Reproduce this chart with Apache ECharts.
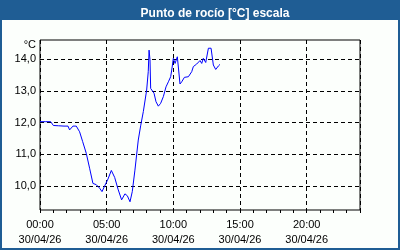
<!DOCTYPE html>
<html>
<head>
<meta charset="utf-8">
<script src="https://cdn.jsdelivr.net/npm/echarts@6/dist/echarts.min.js"></script>
<style>html,body{margin:0;padding:0;background:#fcfffc}#c{width:400px;height:250px}</style>
</head>
<body>
<div id="c"></div>
<script>
const TITLE = 'Punto de rocío [°C] escala';
const UNIT = '°C';
const DATE_LABEL = '30/04/26';
const hours = [0.0,0.4,0.8,1.0,1.4,1.8,2.1,2.22,2.47,2.72,2.97,3.2,3.47,3.72,3.97,4.22,4.47,4.65,4.85,5.1,5.35,5.6,5.85,6.12,6.37,6.55,6.75,6.92,7.12,7.37,7.55,7.75,8.0,8.12,8.18,8.25,8.3,8.45,8.55,8.7,8.875,9.05,9.25,9.45,9.63,9.8,9.88,10.0,10.13,10.3,10.38,10.5,10.63,10.83,11.13,11.38,11.5,11.75,11.88,12.0,12.13,12.25,12.43,12.5,12.63,12.83,13.0,13.18,13.38,13.5];
const dewPoint = [12.03,12.03,12.03,11.91,11.90,11.89,11.89,11.77,11.89,11.89,11.71,11.40,11.03,10.56,10.08,10.04,9.93,9.82,10.00,10.22,10.49,10.27,9.90,9.56,9.75,9.69,9.50,9.82,10.50,11.45,11.90,12.35,13.03,13.62,14.29,13.98,13.08,13.05,12.93,12.66,12.52,12.61,12.82,13.13,13.29,13.45,13.66,14.03,13.87,14.08,14.13,13.22,13.29,13.43,13.45,13.61,13.77,13.85,13.87,13.96,13.87,14.03,13.90,13.85,14.35,14.35,13.82,13.68,13.79,13.84];
const yTicks = [10, 11, 12, 13, 14];
const xLabelHours = [0, 5, 10, 15, 20];

const chart = echarts.init(document.getElementById('c'), null, {renderer: 'canvas'});
const FONT = 'Liberation Sans';
chart.setOption({
  backgroundColor: '#fcfffc',
  animation: false,
  title: {
    text: TITLE, left: 210, top: 3, textAlign: 'center',
    textStyle: {color: '#ffffff', fontFamily: FONT, fontSize: 12, fontWeight: 'bold'}
  },
  graphic: [
    {type: 'rect', z: -1, shape: {x: 0, y: 0, width: 400, height: 20}, style: {fill: '#1f5d94'}},
    {type: 'rect', z: 100, shape: {x: 1, y: 1, width: 398, height: 248}, style: {fill: 'none', stroke: '#1f5d94', lineWidth: 2}},
    {type: 'text', x: 36, y: 45, style: {text: UNIT, fill: '#000', font: '11px "Liberation Sans"', align: 'right', verticalAlign: 'middle'}}
  ],
  grid: {left: 40, right: 40, top: 40, bottom: 40, show: true, borderColor: '#000', borderWidth: 1, backgroundColor: 'transparent'},
  xAxis: [
    {
      type: 'value', min: 0, max: 24, interval: 5, position: 'bottom',
      axisLine: {show: false}, axisTick: {show: false},
      splitLine: {show: true, lineStyle: {color: '#000', type: [4, 3], width: 1}},
      axisLabel: {
        show: true, margin: 7, color: '#000', fontFamily: FONT, fontSize: 11, lineHeight: 15,
        showMaxLabel: false,
        formatter: v => xLabelHours.indexOf(v) >= 0 ? String(v).padStart(2, '0') + ':00\n' + DATE_LABEL : ''
      }
    },
    {
      type: 'value', min: 0, max: 24, interval: 1, position: 'bottom',
      axisLine: {show: false},
      axisTick: {show: true, length: 3, lineStyle: {color: '#000', width: 1}},
      axisLabel: {show: false}, splitLine: {show: false}
    }
  ],
  yAxis: {
    type: 'value', min: 9.24, max: 14.61,
    axisLine: {show: false},
    axisTick: {show: false, customValues: yTicks},
    splitLine: {show: true, lineStyle: {color: '#000', type: [4, 3], width: 1}},
    axisLabel: {
      customValues: yTicks, margin: 4, color: '#000', fontFamily: FONT, fontSize: 11,
      formatter: v => v.toFixed(1).replace('.', ',')
    }
  },
  series: [{
    type: 'line', xAxisIndex: 0, showSymbol: false, symbol: 'none',
    data: hours.map((h, i) => [h, dewPoint[i]]),
    lineStyle: {color: '#0000ff', width: 1}
  }]
});
</script>
</body>
</html>
